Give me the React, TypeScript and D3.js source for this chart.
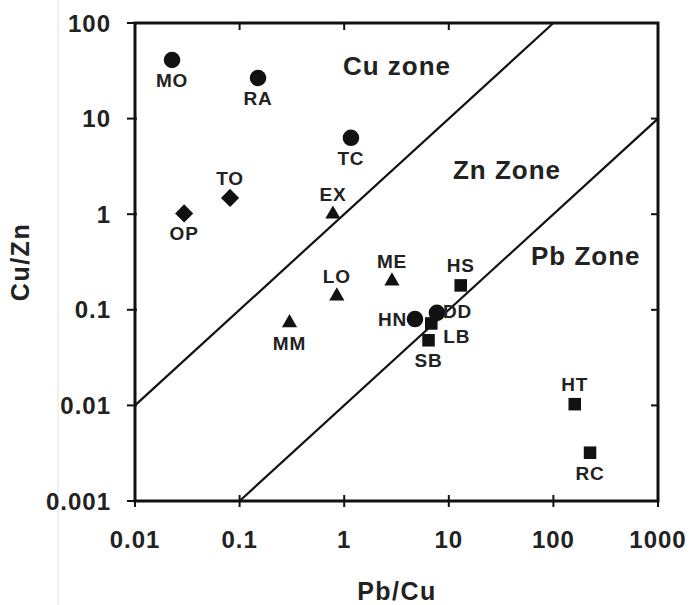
import React from "react";
import * as d3 from "d3";

const xTicks = [0.01, 0.1, 1, 10, 100, 1000];
const yTicks = [0.001, 0.01, 0.1, 1, 10, 100];
const xTickLabels = ["0.01", "0.1", "1", "10", "100", "1000"];
const yTickLabels = ["0.001", "0.01", "0.1", "1", "10", "100"];

// deposits: Pb/Cu, Cu/Zn, marker, label side
const names = ["MO", "RA", "TC", "TO", "OP", "EX", "LO", "ME", "MM", "HS", "HN", "DD", "LB", "SB", "HT", "RC"];
const pbcu = [0.0226, 0.15, 1.16, 0.081, 0.0295, 0.78, 0.85, 2.86, 0.3, 13, 4.75, 7.7, 6.8, 6.4, 160, 224];
const cuzn = [41, 26.6, 6.3, 1.48, 1.02, 1.0, 0.139, 0.2, 0.073, 0.18, 0.08, 0.093, 0.072, 0.048, 0.0103, 0.0032];
const shapes = ["circle", "circle", "circle", "diamond", "diamond", "triangle", "triangle", "triangle", "triangle", "square", "circle", "circle", "square", "square", "square", "square"];
const labelPos = ["below", "below", "below", "above", "below", "above", "above", "above", "below", "above", "left", "right", "rightLow", "below", "above", "below"];

// zone boundaries Cu/Zn = k * Pb/Cu
const boundaries = [1, 0.01];
const zoneNames = ["Cu zone", "Zn Zone", "Pb Zone"];
const zoneX = [3.2, 36, 204];
const zoneY = [35.5, 2.9, 0.37];

const W = 691;
const H = 605;
const font = "'Liberation Sans', Arial, sans-serif";

export default function App() {
  const x = d3.scaleLog().domain([0.01, 1000]).range([135, 658]);
  const y = d3.scaleLog().domain([0.001, 100]).range([501, 23]);

  const sym = (s: string) => {
    if (s === "circle") return d3.symbol(d3.symbolCircle, 215)();
    if (s === "diamond") return d3.symbol(d3.symbolDiamond2, 210)();
    if (s === "triangle") return d3.symbol(d3.symbolTriangle2, 165)();
    return d3.symbol(d3.symbolSquare2, 200)();
  };

  const clipLine = (k: number) => {
    // clip y = k*x to the plot domain
    const x0 = Math.max(0.01, 0.001 / k);
    const x1 = Math.min(1000, 100 / k);
    return { x1: x(x0), y1: y(k * x0), x2: x(x1), y2: y(k * x1) };
  };

  return (
    <svg width={W} height={H} style={{ display: "block", position: "absolute", left: 0, top: 0, background: "#fff" }}>
      <rect width={W} height={H} fill="#fff" />
      <line x1={58} x2={58} y1={0} y2={H} stroke="#e2e2e2" strokeWidth={1} />

      {boundaries.map((k, i) => {
        const l = clipLine(k);
        return <line key={i} {...l} stroke="#111" strokeWidth={2.2} />;
      })}

      <rect x={135} y={23} width={523} height={478} fill="none" stroke="#111" strokeWidth={3} />

      {xTicks.map((t, i) => (
        <g key={"x" + i} fontFamily={font} fontWeight="bold" fontSize={24} letterSpacing={1} fill="#222">
          <line x1={x(t)} x2={x(t)} y1={495} y2={507} stroke="#111" strokeWidth={2} />
          {i > 0 && i < 4 && <line x1={x(t)} x2={x(t)} y1={23} y2={30} stroke="#111" strokeWidth={2} />}
          <text x={x(t)} y={548} textAnchor="middle">{xTickLabels[i]}</text>
        </g>
      ))}
      {yTicks.map((t, i) => (
        <g key={"y" + i} fontFamily={font} fontWeight="bold" fontSize={24} letterSpacing={1} fill="#222">
          <line x1={127} x2={137} y1={y(t)} y2={y(t)} stroke="#111" strokeWidth={2} />
          {i > 0 && i < 5 && <line x1={651} x2={658} y1={y(t)} y2={y(t)} stroke="#111" strokeWidth={2} />}
          <text x={111} y={y(t)} dy="0.36em" textAnchor="end">{yTickLabels[i]}</text>
        </g>
      ))}

      {names.map((n, i) => {
        const px = x(pbcu[i]);
        const py = y(cuzn[i]);
        const pos = labelPos[i];
        let lx = px, ly = py, anchor = "middle";
        if (pos === "below") ly = py + 27;
        if (pos === "above") ly = py - 13;
        if (pos === "left") { lx = px - 8; ly = py + 7; anchor = "end"; }
        if (pos === "right") { lx = px + 6; ly = py + 5; anchor = "start"; }
        if (pos === "rightLow") { lx = px + 12; ly = py + 20; anchor = "start"; }
        return (
          <g key={n}>
            <path d={sym(shapes[i]) as string} transform={`translate(${px},${py})`} fill="#111" />
            <text x={lx} y={ly} textAnchor={anchor} fontFamily={font} fontWeight="bold" fontSize={19} letterSpacing={0.8} fill="#222">{n}</text>
          </g>
        );
      })}

      {zoneNames.map((z, i) => (
        <text key={z} x={x(zoneX[i])} y={y(zoneY[i])} dy="0.36em" textAnchor="middle" fontFamily={font} fontWeight="bold" fontSize={26} letterSpacing={1} fill="#222">{z}</text>
      ))}

      <text x={397} y={600} textAnchor="middle" fontFamily={font} fontWeight="bold" fontSize={25} letterSpacing={1.5} fill="#222">Pb/Cu</text>
      <text transform="translate(29,262) rotate(-90)" textAnchor="middle" fontFamily={font} fontWeight="bold" fontSize={25} letterSpacing={1.5} fill="#222">Cu/Zn</text>
    </svg>
  );
}
